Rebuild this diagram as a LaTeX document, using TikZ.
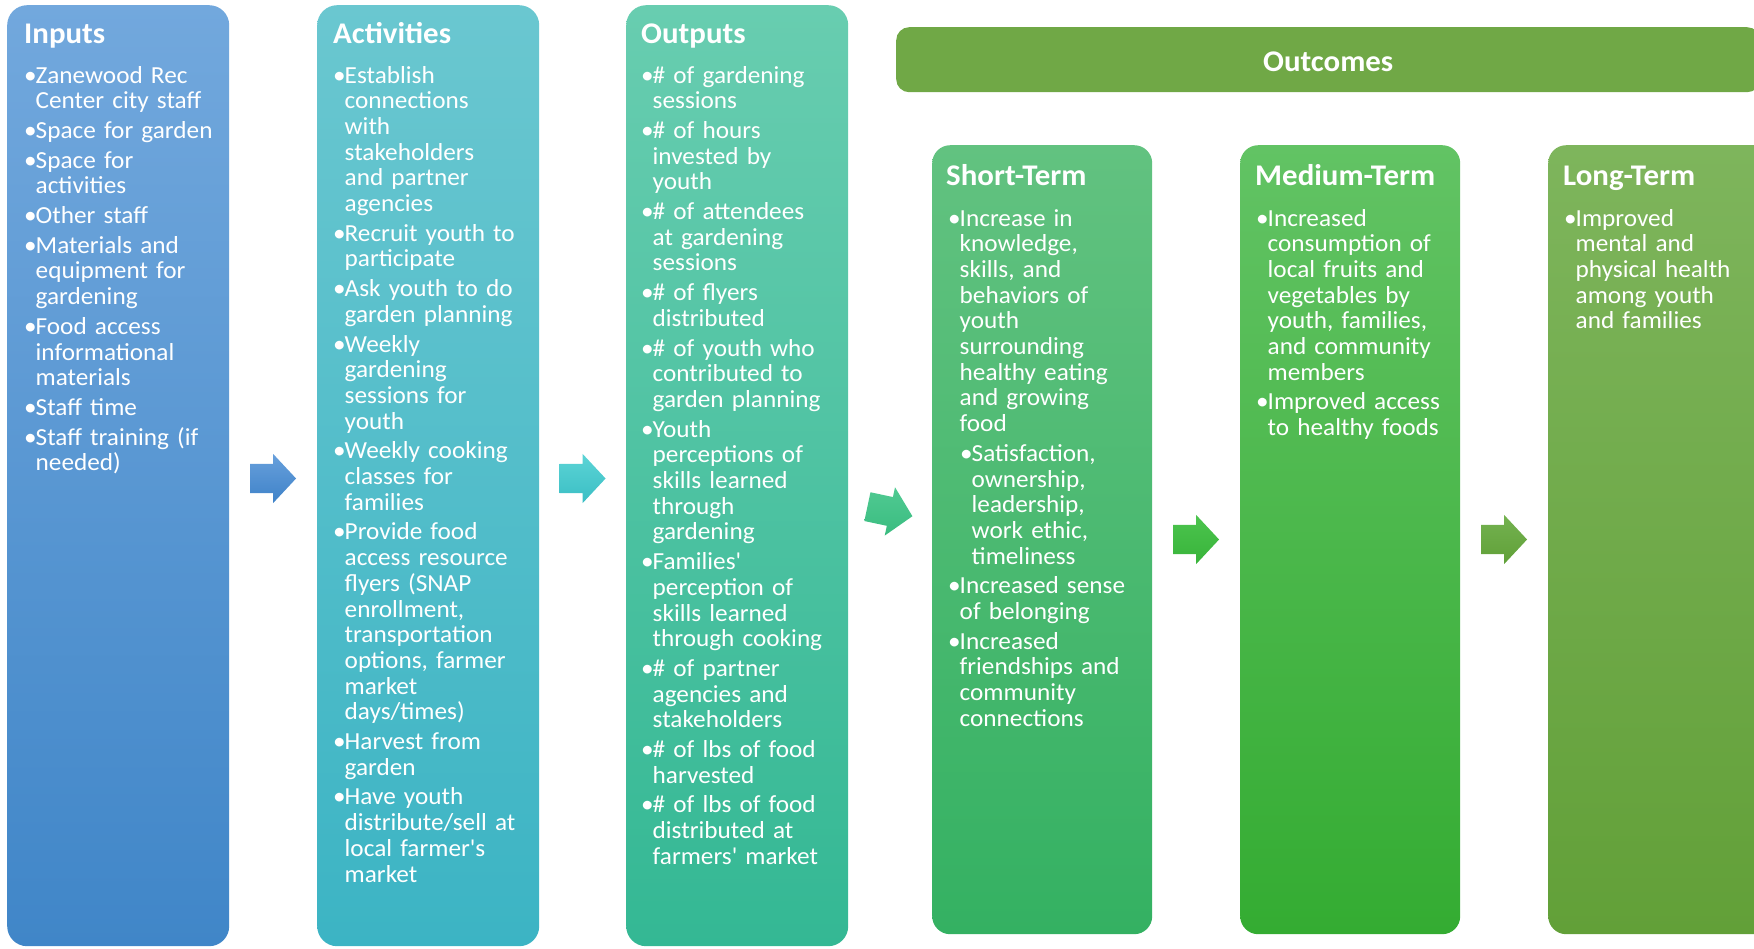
\documentclass[tikz,border=0pt]{standalone}
\usepackage{fontspec}
\setmainfont{Carlito}[FakeStretch=1.03]
\usetikzlibrary{shapes.arrows}
\usetikzlibrary{positioning}
\usetikzlibrary{calc}

\definecolor{inputtop}{RGB}{114,168,221}
\definecolor{inputbot}{RGB}{64,134,200}
\definecolor{acttop}{RGB}{106,199,208}
\definecolor{actbot}{RGB}{60,180,196}
\definecolor{outtop}{RGB}{104,205,176}
\definecolor{outbot}{RGB}{52,184,148}
\definecolor{bannergreen}{RGB}{112,168,70}
\definecolor{shorttop}{RGB}{98,194,128}
\definecolor{shortbot}{RGB}{52,177,98}
\definecolor{medtop}{RGB}{98,195,100}
\definecolor{medbot}{RGB}{52,172,50}
\definecolor{longtop}{RGB}{126,181,92}
\definecolor{longbot}{RGB}{98,160,56}

\newlength\bulletwd
\setlength\bulletwd{11.5pt}
\newcommand\listfont{\fontsize{24.5}{25.7}\selectfont\raggedright}
\newcommand\bitem[1]{\hangindent=\bulletwd\hangafter=1\noindent
  \makebox[\bulletwd][l]{\textbullet}#1\par\vspace{4pt}}
\newcommand\bsubitem[1]{\hangindent=\dimexpr\bulletwd+12pt\relax\hangafter=1\noindent
  \hspace*{12pt}\makebox[\bulletwd][l]{\textbullet}#1\par\vspace{4pt}}
\newcommand\apos{\textquotesingle}
\newcommand\nl{\newline}

\begin{document}
\begin{tikzpicture}[x=1pt,y=-1pt,
    colbox/.style={rounded corners=20pt, minimum width=222pt, minimum height=941pt,
      anchor=north west, inner sep=0pt},
    termbox/.style={rounded corners=18pt, minimum width=220pt, minimum height=789pt,
      anchor=north west, inner sep=0pt},
    coltitle/.style={text=white, inner sep=0pt, anchor=base west,
      font=\fontsize{30}{36}\selectfont\bfseries},
    collist/.style={text=white, inner sep=0pt, anchor=base west, text width=220pt,
      font=\listfont},
    flowarrow/.style={single arrow, single arrow head extend=10pt,
      single arrow tip angle=94, minimum height=46pt, minimum width=49pt,
      inner xsep=0pt, inner ysep=14.5pt, xshift=-7pt}]
  \path[use as bounding box] (0,0) rectangle (1754,948);
  \clip (0,0) rectangle (1754,948);

  % Columns
  \node[colbox, top color=inputtop, bottom color=inputbot] (inputs) at (7,5) {};
  \node[colbox, top color=acttop, bottom color=actbot] (activities) at (317,5) {};
  \node[colbox, top color=outtop, bottom color=outbot] (outputs) at (626,5) {};

  % Outcomes banner and terms
  \node[rounded corners=13pt, fill=bannergreen, minimum width=864pt, minimum height=65pt,
    anchor=north west, inner sep=0pt] (outcomes) at (896,27) {};
  \node[text=white, font=\fontsize{30}{36}\selectfont\bfseries, yshift=-2pt] at (outcomes.center) {Outcomes};
  \node[termbox, top color=shorttop, bottom color=shortbot] (short) at (932,145) {};
  \node[termbox, top color=medtop, bottom color=medbot] (medium) at (1240,145) {};
  \node[termbox, top color=longtop, bottom color=longbot, minimum width=230pt] (long) at (1548,145) {};

  % Titles
  \node[coltitle, below right=38pt and 17pt of inputs.north west, anchor=base west] {Inputs};
  \node[coltitle, below right=38pt and 16pt of activities.north west, anchor=base west] {Activities};
  \node[coltitle, below right=38pt and 15pt of outputs.north west, anchor=base west] {Outputs};
  \node[coltitle, below right=40pt and 14pt of short.north west, anchor=base west] {Short-Term};
  \node[coltitle, below right=40pt and 15pt of medium.north west, anchor=base west] {Medium-Term};
  \node[coltitle, below right=40pt and 15pt of long.north west, anchor=base west] {Long-Term};

  % Lists
  \node[collist, below right=78pt and 17pt of inputs.north west, anchor=base west] (inputs list) {%
    \bitem{Zanewood Rec\nl Center city staff}
    \bitem{Space for garden}
    \bitem{Space for\nl activities}
    \bitem{Other staff}
    \bitem{Materials and\nl equipment for\nl gardening}
    \bitem{Food access\nl informational\nl materials}
    \bitem{Staff time}
    \bitem{Staff training (if\nl needed)}};
  \node[collist, below right=78pt and 16pt of activities.north west, anchor=base west] (activities list) {%
    \bitem{Establish\nl connections\nl with\nl stakeholders\nl and partner\nl agencies}
    \bitem{Recruit youth to\nl participate}
    \bitem{Ask youth to do\nl garden planning}
    \bitem{Weekly\nl gardening\nl sessions for\nl youth}
    \bitem{Weekly cooking\nl classes for\nl families}
    \bitem{Provide food\nl access resource\nl flyers (SNAP\nl enrollment,\nl transportation\nl options, farmer\nl market\nl days/times)}
    \bitem{Harvest from\nl garden}
    \bitem{Have youth\nl distribute/sell at\nl local farmer\apos s\nl market}};
  \node[collist, below right=78pt and 15pt of outputs.north west, anchor=base west] (outputs list) {%
    \bitem{\# of gardening\nl sessions}
    \bitem{\# of hours\nl invested by\nl youth}
    \bitem{\# of attendees\nl at gardening\nl sessions}
    \bitem{\# of flyers\nl distributed}
    \bitem{\# of youth who\nl contributed to\nl garden planning}
    \bitem{Youth\nl perceptions of\nl skills learned\nl through\nl gardening}
    \bitem{Families\apos\nl perception of\nl skills learned\nl through cooking}
    \bitem{\# of partner\nl agencies and\nl stakeholders}
    \bitem{\# of lbs of food\nl harvested}
    \bitem{\# of lbs of food\nl distributed at\nl farmers\apos{} market}};
  \node[collist, below right=81pt and 16pt of short.north west, anchor=base west] (short list) {%
    \bitem{Increase in\nl knowledge,\nl skills, and\nl behaviors of\nl youth\nl surrounding\nl healthy eating\nl and growing\nl food}
    \bsubitem{Satisfaction,\nl ownership,\nl leadership,\nl work ethic,\nl timeliness}
    \bitem{Increased sense\nl of belonging}
    \bitem{Increased\nl friendships and\nl community\nl connections}};
  \node[collist, below right=81pt and 16pt of medium.north west, anchor=base west] (medium list) {%
    \bitem{Increased\nl consumption of\nl local fruits and\nl vegetables by\nl youth, families,\nl and community\nl members}
    \bitem{Improved access\nl to healthy foods}};
  \node[collist, below right=81pt and 16pt of long.north west, anchor=base west] (long list) {%
    \bitem{Improved\nl mental and\nl physical health\nl among youth\nl and families}};

  % Arrows between columns
  \node[flowarrow, top color={rgb,255:red,104;green,160;blue,220}, bottom color={rgb,255:red,62;green,130;blue,200}]
    (arr1) at ($(inputs.north east)!.5!(activities.north west)+(0,473.5)$) {};
  \node[flowarrow, top color={rgb,255:red,92;green,212;blue,214}, bottom color={rgb,255:red,58;green,190;blue,196}]
    (arr2) at ($(activities.north east)!.5!(outputs.north west)+(0,473.5)$) {};
  \node[flowarrow, rotate=-12, top color={rgb,255:red,80;green,202;blue,146}, bottom color={rgb,255:red,58;green,188;blue,128}]
    (arr3) at ($(outputs.east |- short.north)!.5!(short.north west)+(0,365)$) {};
  \node[flowarrow, top color={rgb,255:red,76;green,196;blue,78}, bottom color={rgb,255:red,56;green,180;blue,58}]
    (arr4) at ($(short.north east)!.5!(medium.north west)+(0,394.5)$) {};
  \node[flowarrow, top color={rgb,255:red,116;green,178;blue,80}, bottom color={rgb,255:red,96;green,160;blue,56}]
    (arr5) at ($(medium.north east)!.5!(long.north west)+(0,394.5)$) {};
\end{tikzpicture}
\end{document}
